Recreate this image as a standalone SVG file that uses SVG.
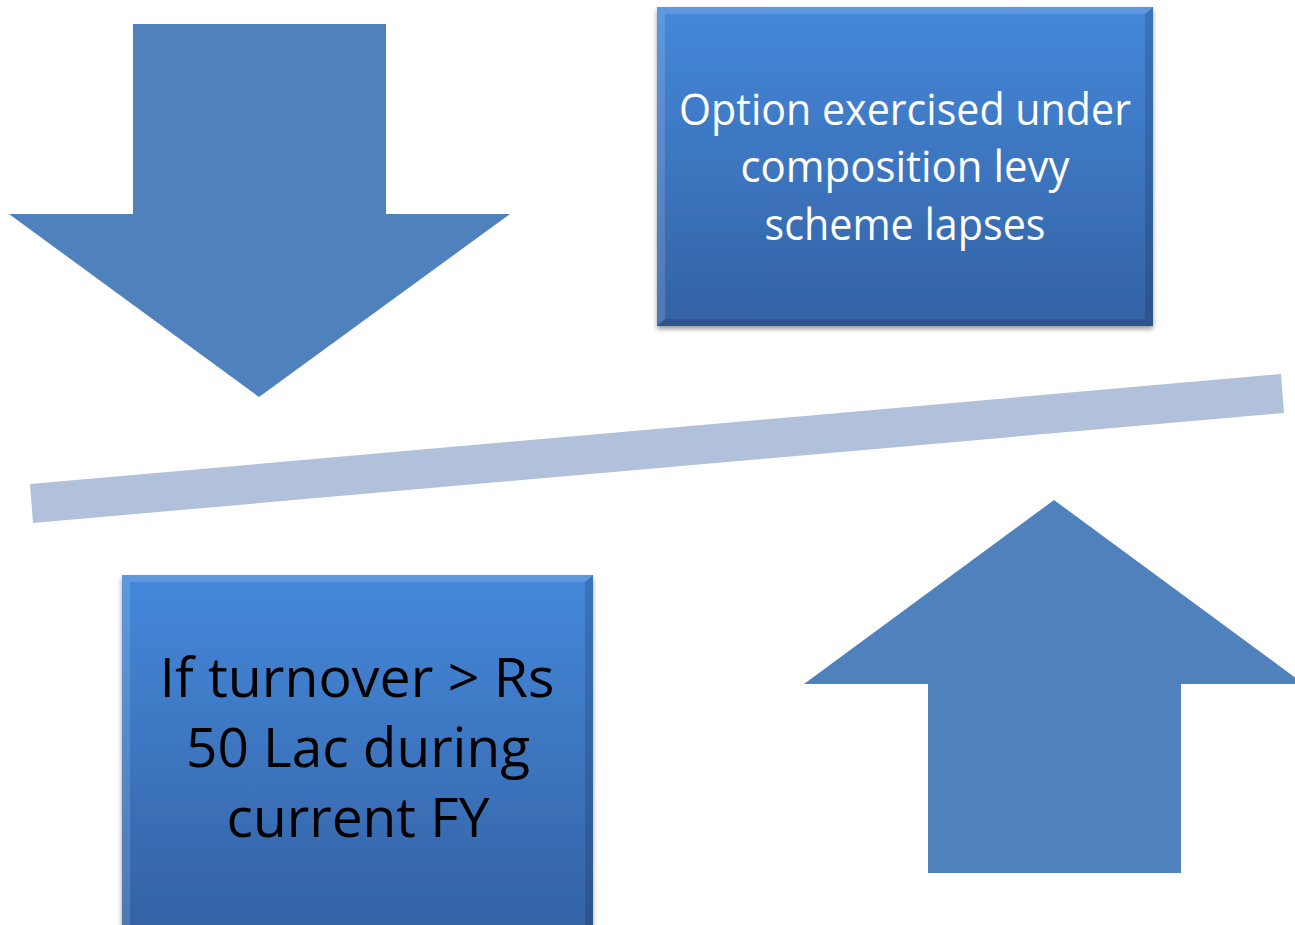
<svg xmlns="http://www.w3.org/2000/svg" width="1295" height="925" viewBox="0 0 1295 925">
<defs>
<linearGradient id="boxg" x1="0" y1="0" x2="0" y2="1">
<stop offset="0" stop-color="#4488da"/>
<stop offset="1" stop-color="#3462a4"/>
</linearGradient>
<filter id="sh" x="-5%" y="-5%" width="110%" height="115%">
<feGaussianBlur in="SourceAlpha" stdDeviation="2.5"/>
<feOffset dx="0" dy="3" result="b"/>
<feComponentTransfer><feFuncA type="linear" slope="0.4"/></feComponentTransfer>
<feMerge><feMergeNode/><feMergeNode in="SourceGraphic"/></feMerge>
</filter>
</defs>
<style>
.arrow{fill:#4f81bd}
.bar{fill:#b1c1dc}
.box{fill:url(#boxg)}
.bevL{fill:#ffffff;opacity:0.14}
.bevD{fill:#000000;opacity:0.14}
.tw{font-family:"Open Sans","Liberation Sans",Arial,sans-serif;fill:#ffffff;text-anchor:middle}
.tb{font-family:"Open Sans","Liberation Sans",Arial,sans-serif;fill:#000000;text-anchor:middle}
</style>
<rect width="1295" height="925" fill="#ffffff"/>
<g id="arrow-down">
<polygon class="arrow" points="133,24 386,24 386,214 510,214 259,397 9,214 133,214"/>
</g>
<g id="arrow-up">
<polygon class="arrow" points="1054,500 1304,684 1181,684 1181,873 928,873 928,684 804,684"/>
</g>
<g id="connectors">
<polygon class="bar" points="30,484 1281,374 1284,413 33,523"/>
</g>
<g id="box-top">
<rect class="box" x="657" y="7" width="496" height="319" filter="url(#sh)"/>
<polygon class="bevL" points="657,7 1153,7 1145,14 665,14"/>
<polygon class="bevD" points="1153,7 1153,326 1145,319 1145,14"/>
<polygon class="bevD" points="657,326 1153,326 1145,319 665,319"/>
<polygon class="bevL" points="657,7 665,14 665,319 657,326" opacity="0.5"/>
<text class="tw" x="905" y="125" font-size="43" textLength="452" lengthAdjust="spacingAndGlyphs">Option exercised under</text>
<text class="tw" x="905" y="182" font-size="43" textLength="329" lengthAdjust="spacingAndGlyphs">composition levy</text>
<text class="tw" x="905" y="240" font-size="43" textLength="281" lengthAdjust="spacingAndGlyphs">scheme lapses</text>
</g>
<g id="box-bottom">
<rect class="box" x="122" y="575" width="471" height="360" filter="url(#sh)"/>
<polygon class="bevL" points="122,575 593,575 585,582 130,582"/>
<polygon class="bevD" points="593,575 593,935 585,928 585,582"/>
<polygon class="bevL" points="122,575 130,582 130,928 122,935" opacity="0.5"/>
<text class="tb" x="357" y="697" font-size="54" textLength="395" lengthAdjust="spacingAndGlyphs">If turnover &gt; Rs</text>
<text class="tb" x="358" y="767" font-size="54" textLength="344" lengthAdjust="spacingAndGlyphs">50 Lac during</text>
<text class="tb" x="358" y="837" font-size="54" textLength="263" lengthAdjust="spacingAndGlyphs">current FY</text>
</g>
</svg>
